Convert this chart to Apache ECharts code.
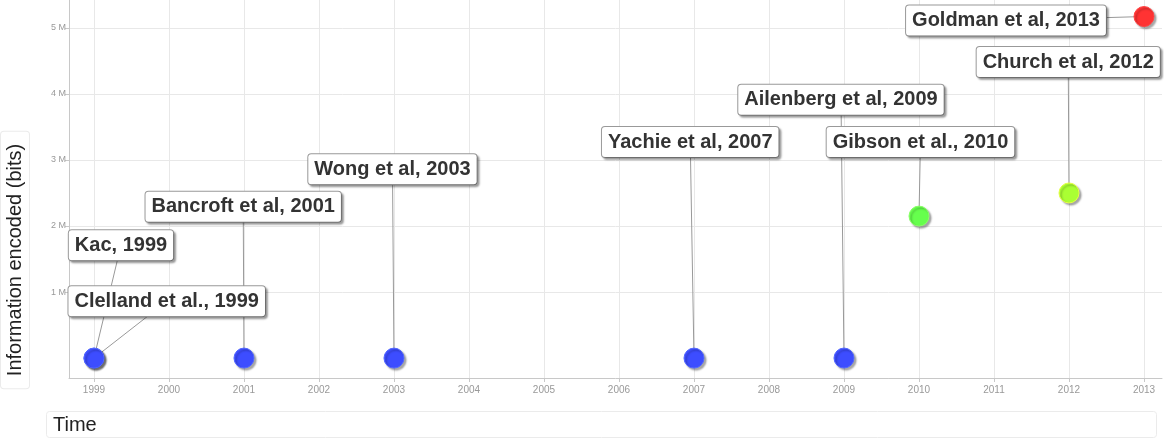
<!DOCTYPE html>
<html><head><meta charset="utf-8">
<script src="https://cdn.jsdelivr.net/npm/echarts@6/dist/echarts.min.js"></script>
<style>html,body{margin:0;padding:0;background:#fff}#c{width:1164px;height:439px}</style>
</head><body><div id="c"></div>
<script>
var names = ['Kac, 1999','Clelland et al., 1999','Bancroft et al, 2001','Wong et al, 2003','Yachie et al, 2007','Ailenberg et al, 2009','Gibson et al., 2010','Church et al, 2012','Goldman et al, 2013'];
var years = [1999, 1999, 2001, 2003, 2007, 2009, 2010, 2012, 2013];
var bits = [1000, 600, 1500, 1000, 1000, 2000, 2150000, 2500000, 5170000];
var pointColors = ['#3d4dff','#3d4dff','#3d4dff','#3d4dff','#3d4dff','#3d4dff','#66ff4d','#aaff33','#ff3333'];
var labelYears = [1999.36, 1999.97, 2000.99, 2002.98, 2006.95, 2008.96, 2010.02, 2011.99, 2011.16];
var labelBits = [1710000, 860000, 2290000, 2860000, 3270000, 3910000, 3270000, 4480000, 5110000];
var xTicks = [1999,2000,2001,2002,2003,2004,2005,2006,2007,2008,2009,2010,2011,2012,2013];
var yTicks = [1000000,2000000,3000000,4000000,5000000];
var yTitle = 'Information encoded (bits)';
var xTitle = 'Time';

var chart = echarts.init(document.getElementById('c'));
var pts = years.map(function(y,i){
  return {value:[y,bits[i]], itemStyle:{color:pointColors[i], borderColor:echarts.color.lift(pointColors[i],-0.35)}};
});
var anchors = labelYears.map(function(y,i){ return {name:names[i], value:[y,labelBits[i]]}; });
var links = years.map(function(y,i){ return {coords:[[y,bits[i]],[labelYears[i],labelBits[i]]]}; });

chart.setOption({
  animation:false,
  title:{text:xTitle,left:46,top:411,padding:[4,1060,3,7],borderColor:'#ebebeb',borderWidth:1,borderRadius:3,
    textStyle:{fontSize:20,color:'#222',fontWeight:'normal',fontFamily:'Liberation Sans'}},
  graphic:[{type:'text',x:15,y:260,rotation:Math.PI/2,silent:true,
    style:{text:yTitle,fontSize:20,fontFamily:'Liberation Sans',fill:'#222',align:'center',verticalAlign:'middle',
      padding:[4,12,4,12],borderColor:'#ebebeb',borderWidth:1,borderRadius:3,backgroundColor:'#fff'}}],
  grid:{left:69,right:2,top:0,bottom:61,containLabel:false,outerBoundsMode:'none'},
  xAxis:{type:'value',min:1998.667,max:2013.24,
    axisLine:{onZero:false,lineStyle:{color:'#c8c8c8'}},
    axisTick:{show:true,length:4,lineStyle:{color:'#c8c8c8'},customValues:xTicks},
    axisLabel:{customValues:xTicks,color:'#999',fontSize:10,fontFamily:'Liberation Sans',margin:7,formatter:function(v){return String(v);}},
    splitLine:{show:true,lineStyle:{color:'#e8e8e8'}}
  },
  yAxis:{type:'value',min:-300000,max:5420000,
    axisLine:{show:true,onZero:false,lineStyle:{color:'#c8c8c8'}},
    axisTick:{show:true,length:4,lineStyle:{color:'#c8c8c8'},customValues:yTicks},
    axisLabel:{customValues:yTicks,color:'#999',fontSize:9,fontFamily:'Liberation Sans',margin:3,formatter:function(v){return (v/1000000)+' M';}},
    splitLine:{show:true,lineStyle:{color:'#e8e8e8'}}
  },
  series:[
    {type:'lines',coordinateSystem:'cartesian2d',z:1,silent:true,
     lineStyle:{color:'#999',width:1,opacity:1},data:links},
    {type:'scatter',z:3,symbol:'circle',symbolSize:20,data:pts,
     itemStyle:{borderWidth:1,shadowColor:'rgba(0,0,0,0.35)',shadowBlur:2,shadowOffsetX:2,shadowOffsetY:2,opacity:1}},
    {type:'scatter',z:2,symbolSize:0,data:anchors,itemStyle:{opacity:1},
     label:{show:true,position:'inside',formatter:'{b}',color:'#333',fontSize:20,lineHeight:20,fontWeight:'bold',fontFamily:'Liberation Sans',
       backgroundColor:'#fff',borderColor:'#999',borderWidth:1,borderRadius:3,padding:[5,6,5,6],
       shadowColor:'rgba(0,0,0,0.3)',shadowBlur:2,shadowOffsetX:2,shadowOffsetY:2}}
  ]
});
</script></body></html>
